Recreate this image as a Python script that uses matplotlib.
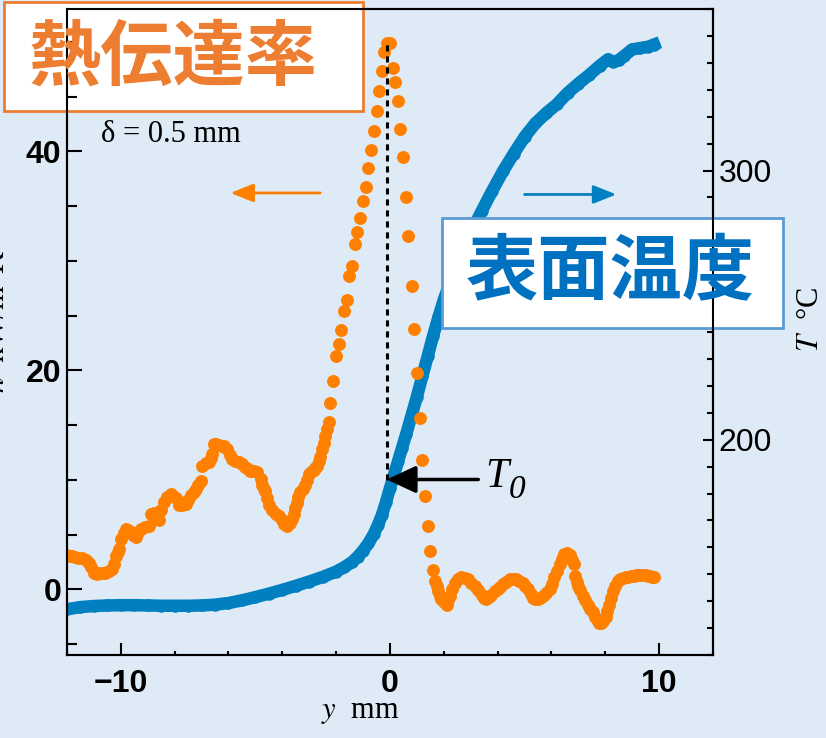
import matplotlib
matplotlib.use("Agg")
import matplotlib.pyplot as plt
from matplotlib.patches import Rectangle
from matplotlib.ticker import MultipleLocator

plt.rcParams['font.family'] = ['Liberation Sans', 'DejaVu Sans']
plt.rcParams['mathtext.fontset'] = 'stix'

# heat transfer coefficient h [kW/m^2K] vs position y [mm]
h_y = [-12.0, -11.9, -11.8, -11.7, -11.6, -11.45, -11.3, -11.2, -11.1, -11.0,
       -10.9, -10.8, -10.7, -10.6, -10.5, -10.43, -10.33, -10.25, -10.19, -10.12,
       -10.06, -10.0, -9.9, -9.81, -9.72, -9.63, -9.53, -9.44, -9.35, -9.26,
       -9.1, -8.95, -8.89, -8.75, -8.64, -8.58, -8.5, -8.40, -8.27, -8.15,
       -8.05, -7.96, -7.84, -7.72, -7.59, -7.5, -7.41, -7.3, -7.22, -7.12,
       -7.04, -6.98, -6.85, -6.73, -6.65, -6.60, -6.54, -6.45, -6.35, -6.25,
       -6.17, -6.05, -5.95, -5.86, -5.75, -5.62, -5.5, -5.37, -5.28, -5.19,
       -5.05, -4.94, -4.81, -4.75, -4.69, -4.63, -4.57, -4.48, -4.38, -4.25,
       -4.14, -4.01, -3.92, -3.83, -3.73, -3.64, -3.58, -3.52, -3.46, -3.40,
       -3.33, -3.24, -3.15, -3.08, -3.02, -2.93, -2.84, -2.78, -2.71, -2.65,
       -2.59, -2.53, -2.47, -2.41, -2.35, -2.28, -2.22, -2.10, -2.00, -1.91,
       -1.81, -1.70, -1.60, -1.51, -1.42, -1.30, -1.21, -1.11, -0.99, -0.90,
       -0.80, -0.70, -0.59, -0.49, -0.41, -0.31, -0.21, -0.12, 0.00, 0.10,
       0.19, 0.28, 0.39, 0.49, 0.58, 0.68, 0.80, 0.89, 0.99, 1.11,
       1.20, 1.30, 1.40, 1.48, 1.58, 1.67, 1.73, 1.79, 1.85, 1.91,
       2.00, 2.10, 2.16, 2.22, 2.30, 2.41, 2.52, 2.65, 2.78, 2.90,
       3.02, 3.15, 3.28, 3.40, 3.49, 3.58, 3.68, 3.77, 3.89, 4.01,
       4.10, 4.20, 4.32, 4.44, 4.56, 4.69, 4.81, 4.94, 5.03, 5.12,
       5.22, 5.31, 5.40, 5.49, 5.58, 5.68, 5.80, 5.93, 6.02, 6.11,
       6.20, 6.30, 6.39, 6.48, 6.57, 6.67, 6.76, 6.85, 6.89, 6.94,
       6.98, 7.07, 7.16, 7.25, 7.35, 7.44, 7.53, 7.62, 7.72, 7.78,
       7.84, 7.93, 8.02, 8.08, 8.15, 8.21, 8.27, 8.36, 8.46, 8.55,
       8.65, 8.77, 8.86, 8.95, 9.05, 9.14, 9.22, 9.30, 9.40, 9.51,
       9.58, 9.65, 9.73, 9.81]
h_val = [3.1, 3.05, 3.0, 2.95, 2.9, 2.85, 2.7, 2.4, 2.0, 1.5,
         1.4, 1.5, 1.45, 1.5, 1.6, 1.7, 1.9, 2.3, 3.0, 3.4,
         3.7, 4.6, 5.1, 5.5, 5.4, 5.2, 5.0, 4.8, 5.2, 5.5,
         5.7, 5.8, 6.9, 7.0, 7.0, 6.3, 7.2, 8.0, 8.4, 8.7,
         8.5, 8.3, 7.7, 7.7, 7.8, 8.2, 8.6, 8.9, 9.2, 9.5,
         9.9, 11.3, 11.5, 11.6, 12.0, 12.4, 13.3, 13.3, 13.2, 13.1,
         13.1, 12.8, 12.3, 11.9, 11.7, 11.6, 11.4, 11.2, 11.0, 10.8,
         10.8, 10.7, 10.1, 9.5, 9.2, 9.0, 8.3, 7.7, 7.2, 6.9,
         6.7, 6.3, 6.0, 5.8, 6.1, 6.4, 6.9, 7.4, 7.9, 8.4,
         8.9, 9.2, 9.5, 10.0, 10.5, 10.7, 10.9, 11.1, 11.3, 11.7,
         12.1, 12.8, 13.4, 14.0, 14.6, 15.3, 17.0, 19.0, 21.3, 22.4,
         23.7, 25.4, 26.4, 28.6, 29.5, 31.5, 32.6, 33.9, 35.5, 36.7,
         38.5, 40.1, 41.9, 43.7, 45.5, 47.3, 49.1, 49.9, 49.9, 47.6,
         46.3, 44.6, 42.0, 39.5, 35.8, 32.3, 27.7, 23.8, 19.8, 15.6,
         11.8, 8.5, 5.8, 3.5, 1.8, 0.8, 0.3, -0.2, -0.6, -0.9,
         -1.2, -1.4, -1.0, -0.6, 0.0, 0.6, 0.9, 1.1, 1.0, 0.9,
         0.6, 0.3, -0.1, -0.5, -0.8, -0.9, -0.7, -0.5, -0.2, 0.0,
         0.25, 0.5, 0.7, 0.9, 0.95, 0.9, 0.8, 0.6, 0.3, 0.0,
         -0.4, -0.8, -0.9, -0.9, -0.8, -0.6, -0.3, 0.0, 0.5, 1.1,
         1.7, 2.3, 2.8, 3.2, 3.3, 3.1, 2.7, 2.3, 1.2, 0.7,
         0.3, -0.1, -0.6, -1.0, -1.4, -1.8, -2.1, -2.5, -2.9, -3.05,
         -3.1, -2.9, -2.5, -2.0, -1.4, -0.8, -0.2, 0.3, 0.8, 0.9,
         1.0, 1.1, 1.15, 1.2, 1.25, 1.3, 1.3, 1.3, 1.3, 1.3,
         1.25, 1.2, 1.15, 1.1]

# surface temperature T [deg C] vs position y [mm]
t_y = [-12.0, -11.5, -11.0, -10.5, -10.0, -9.5, -9.0, -8.5, -8.0, -7.5,
       -7.0, -6.5, -6.0, -5.5, -5.0, -4.5, -4.0, -3.5, -3.0, -2.5,
       -2.0, -1.7, -1.4, -1.2, -1.0, -0.8, -0.6, -0.45, -0.3, -0.15,
       0.0, 0.15, 0.3, 0.45, 0.6, 0.8, 1.0, 1.2, 1.4, 1.6,
       1.8, 2.0, 2.3, 2.6, 3.0, 3.4, 3.8, 4.2, 4.6, 5.0,
       5.4, 5.8, 6.2, 6.6, 7.0, 7.4, 7.8, 8.1, 8.3, 8.5,
       8.7, 9.0, 9.3, 9.6, 9.81]
t_val = [137.0, 137.8, 138.2, 138.4, 138.5, 138.5, 138.4, 138.3, 138.3, 138.3,
         138.4, 138.7, 139.3, 140.3, 141.5, 142.8, 144.2, 145.7, 147.3, 149.0,
         151.0, 152.6, 154.6, 156.5, 158.8, 161.5, 165.0, 168.3, 172.0, 176.8,
         182.0, 187.0, 192.0, 197.0, 202.0, 209.0, 216.0, 223.5, 231.0, 238.5,
         245.5, 252.0, 260.5, 268.0, 277.0, 284.8, 292.5, 299.8, 306.3, 312.5,
         317.5, 321.3, 324.6, 328.8, 332.3, 335.5, 339.0, 341.3, 340.3, 341.0,
         342.6, 345.0, 345.5, 346.0, 346.8]

y0 = -0.12      # position of T0 (h peak)
T0 = 185.2
h_peak = 49.9

bg = '#DEEAF6'
c_h = '#FF8000'
c_t = '#0080C0'

fig = plt.figure(figsize=(8.26, 7.38), dpi=100)
fig.patch.set_facecolor(bg)
ax = fig.add_axes([67/826, 1 - 655/738, 646/826, 646/738])
ax2 = ax.twinx()
ax.set_zorder(ax2.get_zorder() + 1)
ax.patch.set_visible(False)
ax2.patch.set_visible(False)

ax2.plot(t_y, t_val, '-o', color=c_t, lw=9, ms=9, mew=0)
ax.plot(h_y, h_val, 'o', color=c_h, ms=9.3, mew=0, ls='none')

ax.set_xlim(-12, 12)
ax.set_ylim(-6, 53)
ax2.set_ylim(120, 360)

ax.set_xticks([-10, 0, 10])
ax.xaxis.set_minor_locator(MultipleLocator(2))
ax.set_yticks([0, 20, 40])
ax.yaxis.set_minor_locator(MultipleLocator(5))
ax2.set_yticks([200, 300])
ax2.yaxis.set_minor_locator(MultipleLocator(10))

for a in (ax, ax2):
    for s in a.spines.values():
        s.set_linewidth(1.5)

ax.tick_params(axis='x', which='major', direction='in', length=9, width=1.5,
               labelsize=23, pad=10)
ax.tick_params(axis='x', which='minor', direction='in', length=3, width=1.5)
ax.tick_params(axis='y', which='major', direction='in', length=11, width=1.5,
               labelsize=23, pad=4)
ax.tick_params(axis='y', which='minor', direction='in', length=7, width=1.5)
ax2.tick_params(axis='y', which='major', direction='in', length=7, width=1.5,
                labelsize=23, pad=4)
ax2.tick_params(axis='y', which='minor', direction='in', length=4, width=1.5)
for lbl in ax.get_xticklabels() + ax.get_yticklabels():
    lbl.set_fontweight('bold')

# dashed marker from the h peak down to T0
ax.plot([y0, y0], [10.0, h_peak], color='k', lw=2.2, ls=(0, (2, 1.6)))
ax2.annotate('', xy=(y0, T0), xytext=(3.28, T0),
             arrowprops=dict(arrowstyle='-|>,head_length=0.6,head_width=0.28',
                             color='k', lw=2.5, mutation_scale=30,
                             shrinkA=0, shrinkB=0))
ax2.text(3.55, T0 + 1, 'T', fontsize=30, family='Liberation Serif',
         style='italic', va='center', ha='left')
ax2.annotate('0', xy=(3.55, T0 + 1), xytext=(17, -9), textcoords='offset points',
             fontsize=24, family='Liberation Serif', style='italic',
             va='center', ha='left')

# arrows pointing to each axis
ax.annotate('', xy=(-5.93, 36.2), xytext=(-2.59, 36.2),
            arrowprops=dict(arrowstyle='-|>,head_length=0.5,head_width=0.2',
                            color=c_h, lw=2, mutation_scale=28,
                            shrinkA=0, shrinkB=0))
ax2.annotate('', xy=(8.41, 291.1), xytext=(5.0, 291.1),
             arrowprops=dict(arrowstyle='-|>,head_length=0.5,head_width=0.2',
                             color=c_t, lw=2, mutation_scale=28,
                             shrinkA=0, shrinkB=0))

ax.text(-10.74, 41.5, 'δ = 0.5 mm', fontsize=22, family='Liberation Serif',
        va='center', ha='left')

fig.text(360/826, 1 - 712/738, r'$y$  mm', fontsize=22, family='Liberation Serif',
         ha='center', va='center')
fig.text(810/826, 1 - 319/738, r'$T$  °C', fontsize=22, family='Liberation Serif',
         rotation=90, ha='center', va='center')
fig.text(12/826, 1 - 322/738, r'$h$  kW/m$^2$K', fontsize=22,
         family='Liberation Serif', rotation=90, ha='right', va='center')

# labelled boxes
fig.add_artist(Rectangle((4/826, 1 - 111/738), 359/826, 109/738,
                         transform=fig.transFigure, fc='white', ec='#ED7D31', lw=2))
fig.text(173/826, 1 - 58/738, '熱伝達率', fontsize=52, color='#ED7D31',
         family=['Noto Sans CJK JP'], weight='bold', ha='center', va='center')
fig.add_artist(Rectangle((442/826, 1 - 328/738), 341/826, 110/738,
                         transform=fig.transFigure, fc='white', ec='#5B9BD5', lw=2))
fig.text(610/826, 1 - 273/738, '表面温度', fontsize=52, color='#0070C0',
         family=['Noto Sans CJK JP'], weight='bold', ha='center', va='center')

fig.savefig('out.png', dpi=100, facecolor=bg)
